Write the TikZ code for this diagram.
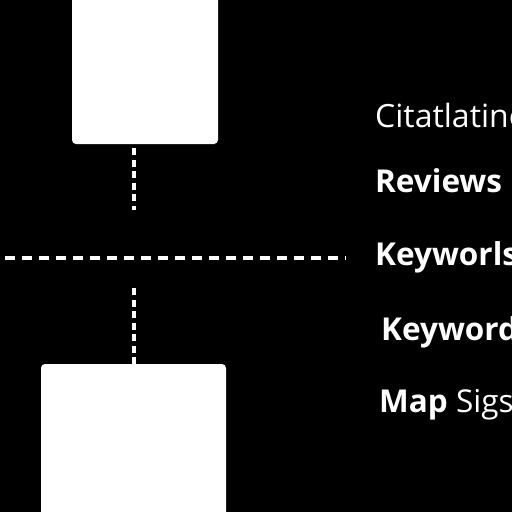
\documentclass[tikz,border=0pt]{standalone}
\usepackage{fontspec}
\setmainfont{Open Sans}
\usetikzlibrary{positioning}

\tikzset{
  whitebox/.style={draw=none,fill=white,rectangle,rounded corners=4pt,inner sep=0pt},
  dashline/.style={draw=white,line width=3.5pt,dash pattern=on 7pt off 4.5pt},
  longdash/.style={draw=white,line width=3.5pt,dash pattern=on 10pt off 7pt},
  tag/.style={text=white,anchor=base west,inner sep=0pt,font=\fontsize{31.5}{31.5}\selectfont\bfseries},
}

\begin{document}
\begin{tikzpicture}[x=1pt,y=1pt]

  \fill [black] (0,0) rectangle (512,-512);
  \useasboundingbox (0,0) rectangle (512,-512);
  \clip (0,0) rectangle (512,-512);

  \node [whitebox,minimum width=146pt,minimum height=154pt] (top) at (145,-67) {};
  \node [whitebox,minimum width=185pt,minimum height=156pt] (bottom) at (133.5,-442) {};

  \coordinate (top_a) at (134,-148);
  \coordinate (top_b) at (134,-210);
  \coordinate (mid_l) at (5,-258);
  \coordinate (mid_r) at (346,-258);
  \coordinate (low_a) at (134,-288);

  \path [dashline]
    (top_a) edge (top_b)
    (low_a) edge (low_a |- bottom.north);

  \path [longdash] (mid_l) edge (mid_r);

  \node [tag,font=\fontsize{32}{32}\selectfont] (cit) at (375,-127) {Citatlatine};
  \node [tag] (rev) at (375,-192) {Reviews};
  \node [tag] (kw1) at (375,-265) {Keyworls};
  \node [tag] (kw2) at (381,-340) {Keywords};
  \node [tag] (map) at (379,-412) {Map \mdseries Sigs};

\end{tikzpicture}
\end{document}
